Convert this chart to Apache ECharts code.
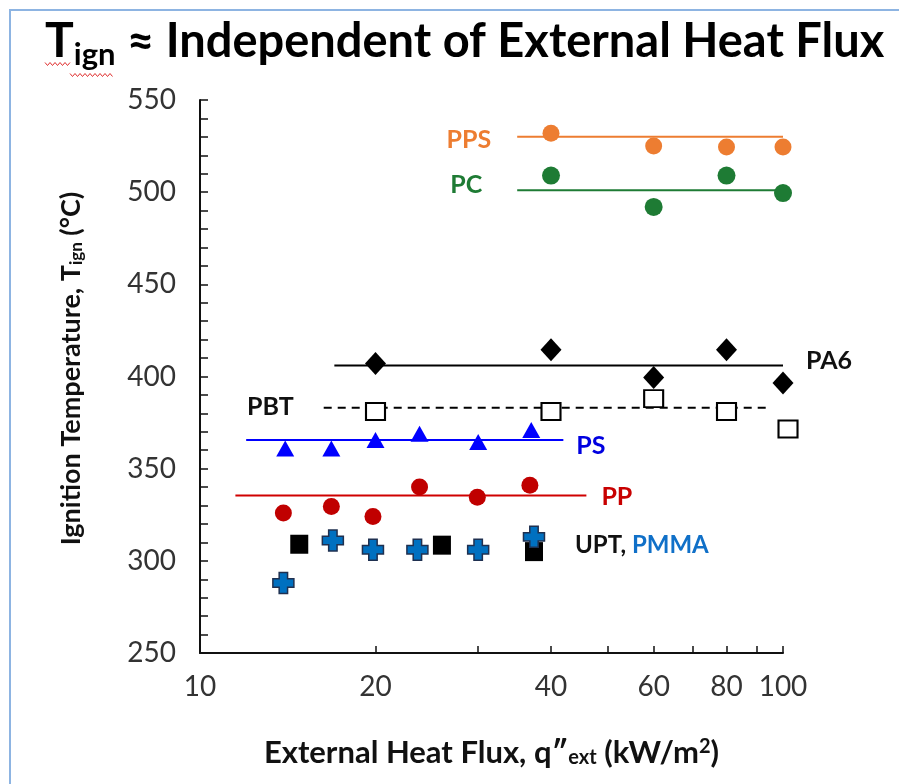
<!DOCTYPE html>
<html>
<head>
<meta charset="utf-8">
<script src="https://cdn.jsdelivr.net/npm/echarts@6/dist/echarts.min.js"></script>
<style>
  html, body { margin: 0; padding: 0; background: #fff; }
  #chart { width: 899px; height: 784px; }
</style>
</head>
<body>
<div id="chart"></div>
<script>
// measured points: heat flux (kW/m2) vs ignition temperature (C)
const ppsFlux = [40, 60, 80, 100];
const ppsT = [532, 525, 524.5, 524.5];
const pcFlux = [40, 60, 80, 100];
const pcT = [509, 492, 509, 499.5];
const pa6Flux = [20, 40, 60, 80, 100];
const pa6T = [407, 414.5, 399.5, 414.5, 396.5];
const pbtFlux = [20, 40, 60, 80, 102];
const pbtT = [381, 381, 388, 381, 371.5];
const psFlux = [14, 16.8, 20, 23.8, 30, 37];
const psT = [361, 361, 365.5, 369, 364.5, 371];
const ppFlux = [13.9, 16.8, 19.8, 23.8, 29.9, 36.8];
const ppT = [326, 329.5, 324, 340, 334.5, 341];
const uptFlux = [14.8, 26, 37.4];
const uptT = [309, 308.5, 305];
const pmmaFlux = [13.9, 16.9, 19.8, 23.6, 30, 37.4];
const pmmaT = [288, 311, 306, 306, 306, 313];

// horizontal "average" lines: [fluxStart, fluxEnd], T
const ppsFit = [[35, 100], 530];
const pcFit = [[35, 100], 501];
const pa6Fit = [[17, 100], 406];
const pbtFit = [[16.3, 95], 383];
const psFit = [[12, 42], 365.5];
const ppFit = [[11.5, 46], 335.5];

const xTickValues = [10, 20, 30, 40, 50, 60, 70, 80, 90, 100];
const xLabelValues = [10, 20, 40, 60, 80, 100];

const FONT = 'Lato, "Open Sans", sans-serif';
const CROSS = 'path://M3,0 H7 V3 H10 V7 H7 V10 H3 V7 H0 V3 H3 Z';

const pts = (xs, ys) => xs.map((x, i) => [x, ys[i]]);
const fitData = fit => [[fit[0][0], fit[1]], [fit[0][1], fit[1]]];

function fitLine(fit, color, dashed) {
  return {
    type: 'line',
    data: fitData(fit),
    symbol: 'none',
    silent: true,
    lineStyle: { color, width: 2, type: dashed ? [8, 6] : 'solid' },
    z: 1
  };
}

function dots(xs, ys, opts) {
  return Object.assign({
    type: 'scatter',
    data: pts(xs, ys),
    clip: false,
    z: 3
  }, opts);
}

// text label anchored at an end of a fit line
function tag(coord, text, color, position, distance, offset, rich) {
  return {
    type: 'scatter',
    data: [coord],
    symbolSize: 0,
    clip: false,
    silent: true,
    z: 4,
    itemStyle: { opacity: 1 },
    label: {
      show: true,
      position,
      distance,
      offset: offset || [0, 0],
      formatter: text,
      color,
      opacity: 1,
      fontFamily: FONT,
      fontWeight: 'bold',
      fontSize: 25,
      rich
    }
  };
}

// red spell-check squiggle seen under the title subscript
function squiggle(x0, x1, y) {
  const p = [];
  for (let x = x0, up = true; x <= x1; x += 2.5, up = !up) p.push([x, up ? y - 1.5 : y + 1.5]);
  return {
    type: 'polyline',
    shape: { points: p },
    style: { stroke: '#E03030', lineWidth: 1, fill: null },
    silent: true
  };
}

const chart = echarts.init(document.getElementById('chart'));

chart.setOption({
  animation: false,
  backgroundColor: '#fff',
  textStyle: { fontFamily: FONT },
  title: {
    text: '{t|T}{s|ign}{m| ≈ Independent of External Heat Flux}',
    left: 40,
    top: 9,
    textStyle: {
      rich: {
        t: { fontFamily: FONT, fontWeight: 'bold', fontSize: 48, lineHeight: 56, color: '#000' },
        s: { fontFamily: FONT, fontWeight: 'bold', fontSize: 31, lineHeight: 28, verticalAlign: 'bottom', color: '#000' },
        m: { fontFamily: FONT, fontWeight: 'bold', fontSize: 47, lineHeight: 56, color: '#000' }
      }
    }
  },
  graphic: [
    {
      type: 'rect',
      shape: { x: 10, y: 10, width: 2000, height: 2000 },
      style: { fill: 'none', stroke: '#8DB4E2', lineWidth: 2 },
      silent: true
    },
    squiggle(45, 70, 64),
    squiggle(70, 113, 75)
  ],
  grid: { left: 200, right: 116, top: 100, bottom: 131 },
  xAxis: {
    type: 'log',
    logBase: 10,
    min: 10,
    max: 100,
    name: 'External Heat Flux, q″{sub|ext} (kW/m{sup|2})',
    nameLocation: 'middle',
    nameGap: 84,
    nameTextStyle: {
      fontFamily: FONT, fontWeight: 'bold', fontSize: 31, color: '#111',
      rich: {
        sub: { fontFamily: FONT, fontWeight: 'bold', fontSize: 20, lineHeight: 16, verticalAlign: 'bottom', color: '#111' },
        sup: { fontFamily: FONT, fontWeight: 'bold', fontSize: 20, lineHeight: 16, verticalAlign: 'top', color: '#111' }
      }
    },
    axisLine: { show: true, lineStyle: { color: '#111', width: 2 } },
    axisTick: { show: true, inside: true, length: 7, customValues: xTickValues, lineStyle: { color: '#111', width: 1.5 } },
    minorTick: { show: false },
    splitLine: { show: false },
    axisLabel: { customValues: xLabelValues, fontSize: 28, color: '#333', margin: 20, fontFamily: FONT }
  },
  yAxis: {
    type: 'value',
    min: 250,
    max: 550,
    interval: 50,
    name: 'Ignition Temperature, T{sub|ign} (°C)',
    nameLocation: 'middle',
    nameGap: 115,
    nameRotate: 90,
    nameTextStyle: {
      fontFamily: FONT, fontWeight: 'bold', fontSize: 27, color: '#111',
      padding: [0, 0, 0, 16],
      rich: {
        sub: { fontFamily: FONT, fontWeight: 'bold', fontSize: 17, lineHeight: 14, verticalAlign: 'bottom', color: '#111' }
      }
    },
    axisLine: { show: true, lineStyle: { color: '#111', width: 2 } },
    axisTick: { show: true, inside: true, length: 8, lineStyle: { color: '#111', width: 1.5 } },
    minorTick: { show: true, splitNumber: 5, length: 8, lineStyle: { color: '#111', width: 1.5 } },
    splitLine: { show: false },
    axisLabel: { fontSize: 28, color: '#333', margin: 24, fontFamily: FONT }
  },
  series: [
    fitLine(ppsFit, '#ED7D31'),
    fitLine(pcFit, '#1E7B34'),
    fitLine(pa6Fit, '#000'),
    fitLine(pbtFit, '#000', true),
    fitLine(psFit, '#0000FF'),
    fitLine(ppFit, '#D00000'),

    dots(ppsFlux, ppsT, { name: 'PPS', symbol: 'circle', symbolSize: 17, itemStyle: { color: '#ED7D31', opacity: 1 } }),
    dots(pcFlux, pcT, { name: 'PC', symbol: 'circle', symbolSize: 18, itemStyle: { color: '#1E7B34', opacity: 1 } }),
    dots(pa6Flux, pa6T, { name: 'PA6', symbol: 'diamond', symbolSize: [21, 23], itemStyle: { color: '#000', opacity: 1 } }),
    dots(pbtFlux, pbtT, { name: 'PBT', symbol: 'rect', symbolSize: [19, 17], itemStyle: { color: '#fff', borderColor: '#000', borderWidth: 2, opacity: 1 } }),
    dots(psFlux, psT, { name: 'PS', symbol: 'triangle', symbolSize: [18, 16], itemStyle: { color: '#0000FF', opacity: 1 } }),
    dots(ppFlux, ppT, { name: 'PP', symbol: 'circle', symbolSize: 17, itemStyle: { color: '#C00000', opacity: 1 } }),
    dots(uptFlux, uptT, { name: 'UPT', symbol: 'rect', symbolSize: [18, 19], itemStyle: { color: '#000', opacity: 1 } }),
    dots(pmmaFlux, pmmaT, { name: 'PMMA', symbol: CROSS, symbolSize: 21, itemStyle: { color: '#0070C0', borderColor: '#1F3050', borderWidth: 1.5, opacity: 1 }, z: 4 }),

    tag([ppsFit[0][0], ppsFit[1]], 'PPS', '#ED7D31', 'left', 26, [0, 3]),
    tag([pcFit[0][0], pcFit[1]], 'PC', '#1E7B34', 'left', 35, [0, -5]),
    tag([pa6Fit[0][1], pa6Fit[1]], 'PA6', '#111', 'right', 23, [0, -5]),
    tag([pbtFit[0][0], pbtFit[1]], 'PBT', '#111', 'left', 30, [0, -1]),
    tag([psFit[0][1], psFit[1]], 'PS', '#0000E0', 'right', 13, [0, 6]),
    tag([ppFit[0][1], ppFit[1]], 'PP', '#C80000', 'right', 15, [0, 2]),
    tag([uptFlux[2], uptT[2]], '{a|UPT, }{b|PMMA}', '#111', 'right', 41, [0, -6], {
      a: { fontFamily: FONT, fontWeight: 'bold', fontSize: 24, color: '#111' },
      b: { fontFamily: FONT, fontWeight: 'bold', fontSize: 24, color: '#1070C8' }
    })
  ]
});
</script>
</body>
</html>
